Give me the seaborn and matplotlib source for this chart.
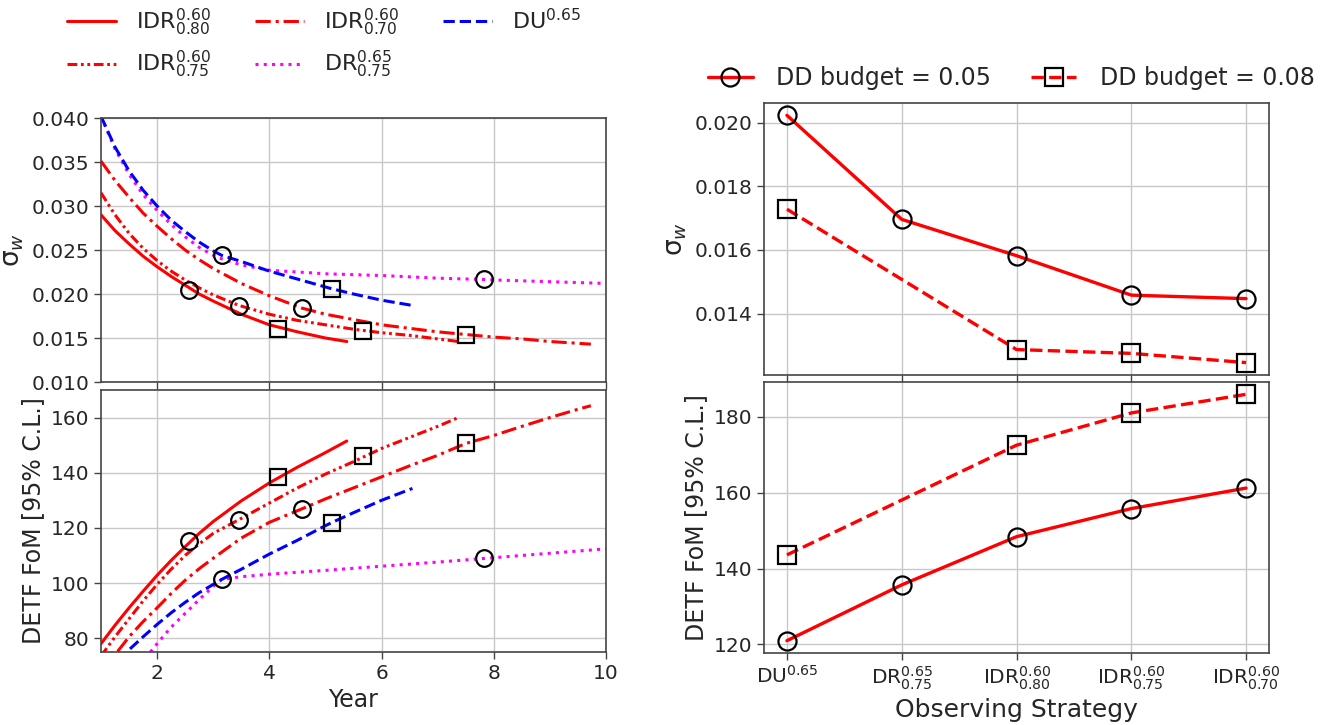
import numpy as np
import pandas as pd
import matplotlib
matplotlib.use("Agg")
import matplotlib.pyplot as plt
import seaborn as sns

# ---------------- data ----------------
# Left panels: sigma_w and DETF FoM versus survey year
years_idr80 = [1.0, 1.25, 1.5, 1.75, 2.0, 2.25, 2.5, 2.75, 3.0, 3.5, 4.0, 4.5, 5.0, 5.38]
sig_idr80 = [0.0290, 0.0272, 0.0257, 0.0243, 0.0231, 0.0220, 0.0210, 0.0200, 0.0192, 0.0177,
             0.0165, 0.0157, 0.0150, 0.0146]
fom_idr80 = [78, 84.7, 91, 97, 102.8, 108.2, 113.2, 118, 122.3, 129.8, 136.3, 142, 147.3, 151.5]

years_idr75 = [1.0, 1.25, 1.5, 1.75, 2.0, 2.25, 2.5, 2.75, 3.0, 3.46, 4.0, 4.5, 5.0, 5.5, 6.0,
               6.5, 7.0, 7.37]
sig_idr75 = [0.0315, 0.0290, 0.0269, 0.0252, 0.0238, 0.0226, 0.0216, 0.0207, 0.0199, 0.0187,
             0.0177, 0.0170, 0.0165, 0.0160, 0.0156, 0.0153, 0.0149, 0.0146]
fom_idr75 = [73.5, 80.5, 87, 93.5, 99.5, 105, 110, 114.2, 118, 123, 129, 134.5, 139.5, 144,
             148.8, 152.8, 156.8, 160]

years_idr70 = [1.0, 1.25, 1.5, 1.75, 2.0, 2.25, 2.5, 2.75, 3.0, 3.5, 4.0, 4.58, 5.0, 5.5, 6.0,
               6.5, 7.0, 7.5, 8.0, 8.5, 9.0, 9.5, 9.73]
sig_idr70 = [0.0351, 0.0329, 0.0310, 0.0292, 0.0277, 0.0263, 0.0250, 0.0239, 0.0229, 0.0212,
             0.0198, 0.0184, 0.0177, 0.0171, 0.0165, 0.0161, 0.0157, 0.0154, 0.0151, 0.0149,
             0.0146, 0.0144, 0.0143]
fom_idr70 = [67, 74, 80.5, 86, 91, 96.2, 101, 105.2, 109, 116.3, 122, 126.9, 130.5, 134.5,
             138.5, 142.5, 146.3, 150.6, 153.5, 156.8, 160, 163, 164.3]

years_du = [1.0, 1.25, 1.5, 1.75, 2.0, 2.25, 2.5, 2.75, 3.0, 3.15, 3.5, 4.0, 4.5, 5.0, 5.11,
            5.5, 6.0, 6.55]
sig_du = [0.0402, 0.0367, 0.0340, 0.0318, 0.0300, 0.0284, 0.0271, 0.0259, 0.0249, 0.0244,
          0.0237, 0.0226, 0.0217, 0.0208, 0.0206, 0.0200, 0.0193, 0.0187]
fom_du = [62, 69, 75.8, 80.5, 85, 89.2, 93, 96.5, 99.5, 101.3, 105, 110.5, 115.5, 120.8,
          121.9, 125.5, 130, 134.3]

years_dr = [1.0, 1.25, 1.5, 1.75, 2.0, 2.25, 2.5, 2.75, 3.0, 3.15, 3.5, 4.0, 4.5, 5.0, 6.0,
            7.0, 7.82, 8.0, 9.0, 10.0]
sig_dr = [0.0402, 0.0365, 0.0336, 0.0313, 0.0295, 0.0279, 0.0265, 0.0253, 0.0244, 0.0240,
          0.0233, 0.0227, 0.0225, 0.0223, 0.0221, 0.0218, 0.02165, 0.0216, 0.0214, 0.0212]
years_dr_fom = [1.88, 2.0, 2.25, 2.5, 2.75, 3.0, 3.15, 3.5, 4.0, 5.0, 6.0, 7.0, 7.82, 8.0,
                9.0, 10.0]
fom_dr = [75, 78, 84, 89, 94, 98.8, 101.3, 102.3, 103.2, 104.6, 106.1, 107.6, 108.9, 109.2,
          110.8, 112.4]

# marked points on the left panels (open circles = DD budget 0.05, squares = 0.08)
circle_years = [2.57, 3.15, 3.46, 4.58, 7.82]
circle_sig = [0.0205, 0.0244, 0.0186, 0.0184, 0.02165]
circle_fom = [115.2, 101.3, 122.8, 126.9, 108.9]
square_years = [4.155, 5.11, 5.67, 7.51]
square_sig = [0.0160, 0.0206, 0.0158, 0.0153]
square_fom = [138.5, 121.9, 146.1, 150.9]

# Right panels: versus observing strategy
strategies = [r"$\mathrm{DU}^{0.65}$", r"$\mathrm{DR}^{0.65}_{0.75}$",
              r"$\mathrm{IDR}^{0.60}_{0.80}$", r"$\mathrm{IDR}^{0.60}_{0.75}$",
              r"$\mathrm{IDR}^{0.60}_{0.70}$"]
pos_b05 = [0, 1, 2, 3, 4]
sig_b05 = [0.02023, 0.01696, 0.01582, 0.01458, 0.01447]
fom_b05 = [121.0, 135.7, 148.4, 155.8, 161.2]
pos_b08 = [0, 2, 3, 4]
sig_b08 = [0.01728, 0.01287, 0.01275, 0.01246]
fom_b08 = [143.6, 172.5, 181.0, 185.9]

# ---------------- style ----------------
sns.set_theme(style="ticks")
plt.rcParams["font.family"] = ["DejaVu Sans"]
plt.rcParams["mathtext.default"] = "regular"
plt.rcParams["axes.edgecolor"] = "#444444"
plt.rcParams["axes.linewidth"] = 1.2

TICK = 14.5
LAB = 17
LEG = 17

fig = plt.figure(figsize=(13.34, 7.25), dpi=100)
ax_ls = fig.add_axes([0.0757, 0.4731, 0.3786, 0.3641])
ax_lf = fig.add_axes([0.0757, 0.1007, 0.3786, 0.3614], sharex=ax_ls)
ax_rs = fig.add_axes([0.5727, 0.4828, 0.3786, 0.3752])
ax_rf = fig.add_axes([0.5727, 0.0993, 0.3786, 0.3738], sharex=ax_rs)

series = [
    (years_idr80, sig_idr80, years_idr80, fom_idr80, "red", "-",
     r"$\mathrm{IDR}^{0.60}_{0.80}$"),
    (years_idr75, sig_idr75, years_idr75, fom_idr75, "red", (0, (3.2, 1.2, 0.9, 1.2, 0.9, 1.2)),
     r"$\mathrm{IDR}^{0.60}_{0.75}$"),
    (years_idr70, sig_idr70, years_idr70, fom_idr70, "red", (0, (5, 1.6, 1, 1.6)),
     r"$\mathrm{IDR}^{0.60}_{0.70}$"),
    (years_dr, sig_dr, years_dr_fom, fom_dr, "magenta", (0, (1, 1.7)),
     r"$\mathrm{DR}^{0.65}_{0.75}$"),
    (years_du, sig_du, years_du, fom_du, "blue", (0, (3.7, 1.6)),
     r"$\mathrm{DU}^{0.65}$"),
]

left_handles = []
for ys, sg, yf, fm, col, ls, lab in series:
    sns.lineplot(x=ys, y=sg, ax=ax_ls, color=col, linestyle=ls, lw=2.2, sort=False,
                 estimator=None, legend=False)
    h = ax_ls.get_lines()[-1]
    h.set_label(lab)
    left_handles.append(h)
    sns.lineplot(x=yf, y=fm, ax=ax_lf, color=col, linestyle=ls, lw=2.2, sort=False,
                 estimator=None, legend=False)

mk = dict(linestyle="none", markerfacecolor="none", markeredgecolor="black",
          markeredgewidth=1.6, markersize=12)
ax_ls.plot(circle_years, circle_sig, marker="o", **mk)
ax_ls.plot(square_years, square_sig, marker="s", **mk)
ax_lf.plot(circle_years, circle_fom, marker="o", **mk)
ax_lf.plot(square_years, square_fom, marker="s", **mk)

ax_ls.set_xlim(1, 10)
ax_ls.set_ylim(0.010, 0.040)
ax_ls.set_yticks(np.arange(0.010, 0.0401, 0.005))
ax_ls.yaxis.set_major_formatter(matplotlib.ticker.FormatStrFormatter("%.3f"))
ax_lf.set_ylim(75, 170)
ax_lf.set_yticks([80, 100, 120, 140, 160])
ax_lf.set_xticks([2, 4, 6, 8, 10])
ax_ls.set_ylabel(r"$\sigma_{\mathit{w}}$", fontsize=LAB + 2)
ax_lf.set_ylabel("DETF FoM [95% C.L.]", fontsize=LAB)
ax_lf.set_xlabel("Year", fontsize=LAB)

# right panels
line_kw = dict(color="red", lw=2.4, markerfacecolor="none", markeredgecolor="black",
               markeredgewidth=1.6, markersize=13, legend=False)
sns.lineplot(x=pos_b05, y=sig_b05, ax=ax_rs, marker="o", linestyle="-", **line_kw)
sns.lineplot(x=pos_b08, y=sig_b08, ax=ax_rs, marker="s", linestyle="--", **line_kw)
sns.lineplot(x=pos_b05, y=fom_b05, ax=ax_rf, marker="o", linestyle="-", **line_kw)
sns.lineplot(x=pos_b08, y=fom_b08, ax=ax_rf, marker="s", linestyle="--", **line_kw)
right_handles = ax_rs.get_lines()[:2]
right_handles[0].set_label("DD budget = 0.05")
right_handles[1].set_label("DD budget = 0.08")

ax_rs.set_xlim(-0.2, 4.2)
ax_rf.set_xticks(range(len(strategies)))
ax_rf.set_xticklabels(strategies)
ax_rs.set_ylabel(r"$\sigma_{\mathit{w}}$", fontsize=LAB + 2)
ax_rf.set_ylabel("DETF FoM [95% C.L.]", fontsize=LAB)
ax_rf.set_xlabel("Observing Strategy", fontsize=LAB + 1)
ax_rs.set_yticks([0.014, 0.016, 0.018, 0.020])
ax_rs.yaxis.set_major_formatter(matplotlib.ticker.FormatStrFormatter("%.3f"))

for ax in (ax_ls, ax_lf, ax_rs, ax_rf):
    ax.grid(True, color="#c8c8c8", lw=1.0)
    ax.tick_params(labelsize=TICK, length=5, width=1, color="#444444")
    for s in ax.spines.values():
        s.set_visible(True)
plt.setp(ax_ls.get_xticklabels(), visible=False)
plt.setp(ax_rs.get_xticklabels(), visible=False)
ax_ls.set_xlabel("")
ax_rs.set_xlabel("")

fig.legend(handles=left_handles, loc="center", bbox_to_anchor=(0.243, 0.94), ncol=3,
           frameon=False, fontsize=LEG - 1, handlelength=2.2, handletextpad=0.9,
           columnspacing=2.0, labelspacing=0.5)
fig.legend(handles=right_handles, loc="center", bbox_to_anchor=(0.758, 0.892), ncol=2,
           frameon=False, fontsize=LEG, handlelength=1.9, handletextpad=1.0,
           columnspacing=1.7)

fig.savefig("out.png", dpi=100)
